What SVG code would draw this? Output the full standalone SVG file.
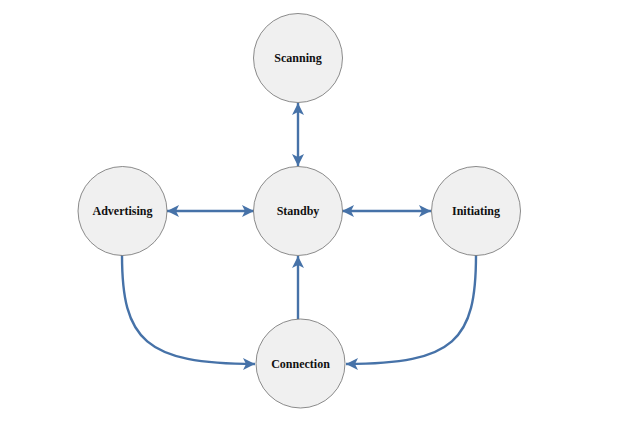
<svg xmlns="http://www.w3.org/2000/svg" width="626" height="423" viewBox="0 0 626 423">
<style>
.node circle{fill:#f0f0f0;stroke:#6e6e6e;stroke-width:0.8}
.node text{font-family:"Liberation Serif",serif;font-weight:bold;font-size:12px;fill:#111;text-anchor:middle;dominant-baseline:central}
.edge{fill:none;stroke:#4672a8;stroke-width:2.4}
</style>
<defs>
<marker id="ah" viewBox="0 0 12 12" refX="12" refY="6" markerWidth="12" markerHeight="12" markerUnits="userSpaceOnUse" orient="auto-start-reverse">
<path d="M0,0 L12,6 L0,12 L3,6 Z" fill="#4672a8"/>
</marker>
</defs>
<rect width="626" height="423" fill="#fff"/>
<g id="connectors">
<path class="edge" d="M298,103 L298,166" marker-start="url(#ah)" marker-end="url(#ah)"/>
<path class="edge" d="M167,211 L254,211" marker-start="url(#ah)" marker-end="url(#ah)"/>
<path class="edge" d="M342,211 L431,211" marker-start="url(#ah)" marker-end="url(#ah)"/>
<path class="edge" d="M298,319 L298,256" marker-end="url(#ah)"/>
<path class="edge" d="M122,255 C122,340 145,364 255,364" marker-end="url(#ah)"/>
<path class="edge" d="M476,255 C476,340 455,364 346,364" marker-end="url(#ah)"/>
</g>
<g id="scanning" class="node"><circle cx="298" cy="58" r="44.5"/><text x="298" y="58">Scanning</text></g>
<g id="advertising" class="node"><circle cx="122.5" cy="211" r="44.5"/><text x="122.5" y="211">Advertising</text></g>
<g id="standby" class="node"><circle cx="298" cy="211" r="44.5"/><text x="298" y="211">Standby</text></g>
<g id="initiating" class="node"><circle cx="476" cy="211" r="44.5"/><text x="476" y="211">Initiating</text></g>
<g id="connection" class="node"><circle cx="300.5" cy="363.5" r="44.5"/><text x="300.5" y="363.5">Connection</text></g>
</svg>
